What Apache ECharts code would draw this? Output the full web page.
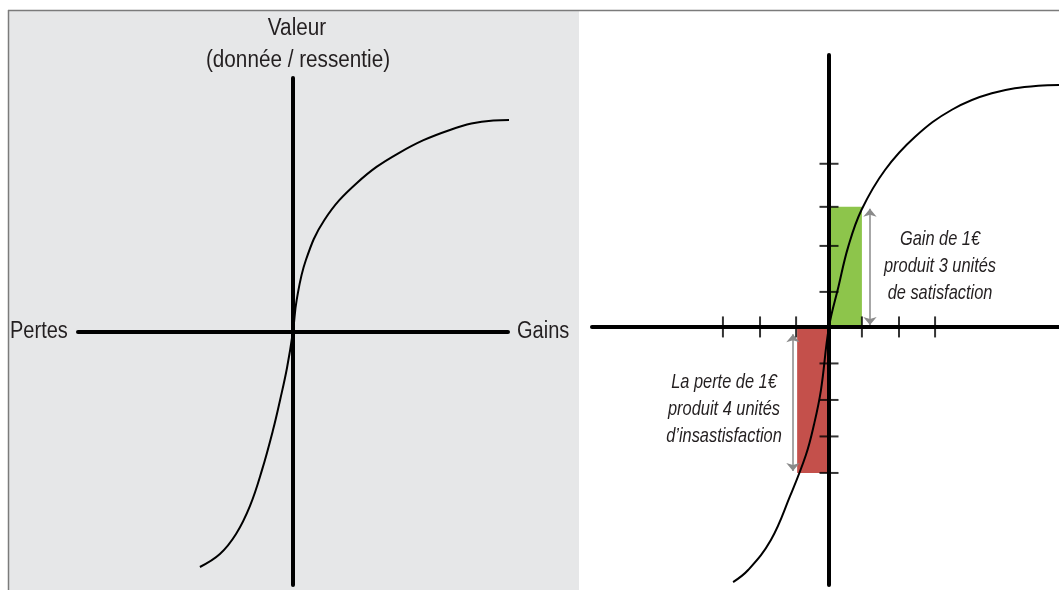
<!DOCTYPE html>
<html>
<head>
<meta charset="utf-8">
<script src="https://cdn.jsdelivr.net/npm/echarts@6/dist/echarts.min.js"></script>
<style>
  html, body { margin: 0; padding: 0; background: #fff; }
  #chart { width: 1059px; height: 590px; }
</style>
</head>
<body>
<div id="chart"></div>
<script>
// courbe de gauche (pertes -> gains), unités du repère gauche
const leftCurve = [
  [-4.33, -9.29], [-3.4, -8.78], [-2.65, -7.99], [-2.0, -6.88], [-1.44, -5.46],
  [-0.93, -3.89], [-0.6, -2.7], [-0.28, -1.44], [0, 0], [0.17, 1.24],
  [0.6, 2.82], [1.46, 4.4], [2.96, 5.85], [4.9, 7.03], [7.3, 7.95],
  [9.32, 8.32], [10.25, 8.34]
]

// courbe de droite
const rightCurve = [
  [-2.74, -6.99], [-2.31, -6.66], [-1.66, -5.84], [-1.11, -4.63], [-0.66, -3.51],
  [-0.43, -2.68], [-0.23, -1.73], [0, 0], [0.27, 1.1], [0.55, 2.2], [0.93, 3.21],
  [1.6, 4.3], [2.46, 5.21], [3.51, 5.95], [4.65, 6.4], [5.98, 6.61], [6.57, 6.63]
]

// graduations du repère de droite
const rightXTicks = [-3.03, -1.97, -0.94, 0.94, 2.0, 3.03]
const rightYTicks = [-4, -3, -2, -1, 0.96, 2.22, 3.29, 4.47]

// zones gain / perte
const gainX = [0, 0.94]
const gainY = [0, 3.29]
const lossX = [-0.91, 0]
const lossY = [-4, 0]

// flèches
const gainArrow = [[1.17, 3.24], [1.17, 0.05]]
const lossArrow = [[-1.03, -0.2], [-1.03, -3.95]]

const gainText = ['Gain de 1€', 'produit 3 unités', 'de satisfaction']
const lossText = ['La perte de 1€', 'produit 4 unités', 'd’insastisfaction']

const chart = echarts.init(document.getElementById('chart'))

const axisBase = {
  type: 'value',
  z: 4,
  axisLine: { show: true, onZero: true, lineStyle: { color: '#000', width: 4 } },
  axisTick: { show: false },
  axisLabel: { show: false },
  splitLine: { show: false }
}

const textColor = '#231f20'
const plainFont = '23px "Liberation Sans", Arial, sans-serif'
const italicFont = 'italic 21px "Liberation Sans", Arial, sans-serif'

function label(text, x, y, align, font, sx) {
  return {
    type: 'text',
    x: x,
    y: y,
    z: 10,
    scaleX: sx || 1,
    style: { text: text, fill: textColor, font: font, textAlign: align, textVerticalAlign: 'middle' }
  }
}

function textLines(lines, x, y0, step) {
  return lines.map(function (t, i) {
    return label(t, x, y0 + i * step, 'center', italicFont, 0.78)
  })
}

const option = {
  animation: false,
  backgroundColor: '#fff',
  grid: [
    { left: 78, top: 78, width: 430, height: 507 },
    { left: 592, top: 55, width: 467, height: 530 }
  ],
  xAxis: [
    Object.assign({}, axisBase, { gridIndex: 0, min: -10, max: 10 }),
    Object.assign({}, axisBase, { gridIndex: 1, min: -6.77, max: 6.57 })
  ],
  yAxis: [
    Object.assign({}, axisBase, { gridIndex: 0, min: -10, max: 10 }),
    Object.assign({}, axisBase, { gridIndex: 1, min: -7.07, max: 7.45 })
  ],
  graphic: [
    { type: 'rect', z: -10, shape: { x: 8, y: 10, width: 571, height: 580 }, style: { fill: '#e6e7e8' } },
    { type: 'line', z: -9, shape: { x1: 8, y1: 10.5, x2: 1059, y2: 10.5 }, style: { stroke: '#7b7b7b', lineWidth: 1.5 } },
    { type: 'line', z: -9, shape: { x1: 8.5, y1: 10, x2: 8.5, y2: 590 }, style: { stroke: '#7b7b7b', lineWidth: 1.5 } },
    label('Valeur', 297, 29, 'center', plainFont, 0.9),
    label('(donnée / ressentie)', 298, 61, 'center', plainFont, 0.9),
    label('Pertes', 10, 332, 'left', plainFont, 0.87),
    label('Gains', 517, 332, 'left', plainFont, 0.87)
  ].concat(textLines(gainText, 940, 239, 27))
    .concat(textLines(lossText, 724, 382, 27)),
  series: [
    {
      // zones colorées + flèches
      type: 'line',
      xAxisIndex: 1,
      yAxisIndex: 1,
      data: [],
      z: 1,
      silent: true,
      markArea: {
        silent: true,
        data: [
          [{ coord: [gainX[0], gainY[0]], itemStyle: { color: '#8dc54b' } }, { coord: [gainX[1], gainY[1]] }],
          [{ coord: [lossX[0], lossY[0]], itemStyle: { color: '#c4504b' } }, { coord: [lossX[1], lossY[1]] }]
        ]
      },
      markLine: {
        silent: true,
        symbol: ['arrow', 'arrow'],
        symbolSize: [10, 8],
        label: { show: false },
        lineStyle: { color: '#8a8a8a', width: 1.5, type: 'solid' },
        data: [
          [{ coord: gainArrow[0] }, { coord: gainArrow[1] }],
          [{ coord: lossArrow[0] }, { coord: lossArrow[1] }]
        ]
      }
    },
    {
      type: 'line',
      xAxisIndex: 0,
      yAxisIndex: 0,
      data: leftCurve,
      smooth: 0.4,
      clip: false,
      showSymbol: false,
      silent: true,
      z: 3,
      lineStyle: { color: '#000', width: 2 }
    },
    {
      type: 'line',
      xAxisIndex: 1,
      yAxisIndex: 1,
      data: rightCurve,
      smooth: 0.4,
      clip: false,
      showSymbol: false,
      silent: true,
      z: 3,
      lineStyle: { color: '#000', width: 2 }
    },
    {
      // graduations horizontales
      type: 'scatter',
      xAxisIndex: 1,
      yAxisIndex: 1,
      data: rightXTicks.map(function (v) { return [v, 0] }),
      symbol: 'rect',
      symbolSize: [2, 21],
      silent: true,
      z: 5,
      itemStyle: { color: '#000' }
    },
    {
      // graduations verticales
      type: 'scatter',
      xAxisIndex: 1,
      yAxisIndex: 1,
      data: rightYTicks.map(function (v) { return [0, v] }),
      symbol: 'rect',
      symbolSize: [19, 2],
      silent: true,
      z: 5,
      itemStyle: { color: '#000' }
    }
  ]
}

chart.setOption(option)
</script>
</body>
</html>
